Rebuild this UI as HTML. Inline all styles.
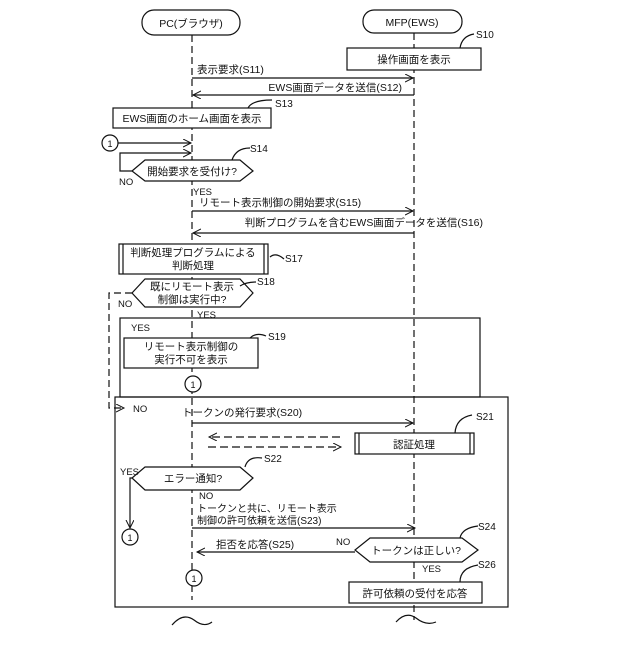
<!DOCTYPE html>
<html><head><meta charset="utf-8"><style>
body{margin:0;background:#fff}
svg text{font-family:"Liberation Sans","Noto Sans CJK JP",sans-serif;fill:#111}
</style></head><body>
<svg width="640" height="640" viewBox="0 0 640 640" xmlns="http://www.w3.org/2000/svg">
<defs>
<marker id="a" markerWidth="10" markerHeight="10" refX="8" refY="4" orient="auto" markerUnits="userSpaceOnUse"><path d="M0,0 L8,4 L0,8" fill="none" stroke="#111" stroke-width="1"/></marker>
</defs>
<g stroke="#111" stroke-width="1.2" fill="none">
<!-- lifelines -->
<line x1="192" y1="35" x2="192" y2="600" stroke-dasharray="7,4"/>
<line x1="414" y1="33" x2="414" y2="620" stroke-dasharray="7,4"/>
<rect x="142" y="10" width="98" height="25" rx="12" fill="#fff"/>
<rect x="363" y="10" width="99" height="23" rx="11" fill="#fff"/>
<rect x="347" y="48" width="134" height="22" fill="#fff"/>
<path d="M460,48 Q462,36 474,34"/>
<line x1="192" y1="78" x2="413" y2="78" marker-end="url(#a)"/>
<line x1="414" y1="95" x2="193" y2="95" marker-end="url(#a)"/>
<rect x="113" y="108" width="158" height="20" fill="#fff"/>
<path d="M248,108 Q252,100 272,100"/>
<circle cx="110" cy="143" r="8" fill="#fff"/>
<line x1="118" y1="143" x2="191" y2="143" marker-end="url(#a)"/>
<polyline points="132,171 120,171 120,153 191,153" marker-end="url(#a)"/>
<polygon points="145,160 240,160 253,171 240,181 145,181 132,171" fill="#fff"/>
<path d="M232,160 Q236,148 250,148"/>
<line x1="192" y1="211" x2="413" y2="211" marker-end="url(#a)"/>
<line x1="414" y1="233" x2="193" y2="233" marker-end="url(#a)"/>
<rect x="119" y="244" width="149" height="30" fill="#fff"/>
<line x1="123" y1="244" x2="123" y2="274"/><line x1="264" y1="244" x2="264" y2="274"/>
<path d="M270,257 Q276,252 284,259"/>
<polygon points="145,279 240,279 253,293 240,307 145,307 132,293" fill="#fff"/>
<path d="M240,286 Q246,282 256,282"/>
<polyline points="132,293 109,293 109,408 124,408" stroke-dasharray="7,4" marker-end="url(#a)"/>
<rect x="120" y="318" width="360" height="79"/>
<rect x="124" y="338" width="134" height="30" fill="#fff"/>
<path d="M250,338 Q256,332 266,336"/>
<circle cx="193" cy="384" r="8" fill="#fff"/>
<rect x="115" y="397" width="393" height="210"/>
<line x1="192" y1="423" x2="413" y2="423" marker-end="url(#a)"/>
<rect x="355" y="433" width="119" height="21" fill="#fff"/>
<line x1="359" y1="433" x2="359" y2="454"/><line x1="470" y1="433" x2="470" y2="454"/>
<path d="M455,433 Q456,418 472,415"/>
<line x1="340" y1="437" x2="209" y2="437" stroke-dasharray="8,4" marker-end="url(#a)"/>
<line x1="208" y1="447" x2="341" y2="447" stroke-dasharray="8,4" marker-end="url(#a)"/>
<polygon points="145,467 240,467 253,478 240,490 145,490 132,478" fill="#fff"/>
<path d="M245,467 Q248,456 262,458"/>
<polyline points="132,478 130,478 130,528" marker-end="url(#a)"/>
<circle cx="130" cy="537" r="8" fill="#fff"/>
<line x1="192" y1="528" x2="415" y2="528" marker-end="url(#a)"/>
<polygon points="370,538 462,538 478,550 462,562 370,562 355,550" fill="#fff"/>
<path d="M460,538 Q462,528 478,526"/>
<line x1="355" y1="552" x2="197" y2="552" marker-end="url(#a)"/>
<circle cx="194" cy="578" r="8" fill="#fff"/>
<rect x="349" y="582" width="133" height="21" fill="#fff"/>
<path d="M460,582 Q460,568 478,565"/>
<path d="M172,625 Q183,612 194,620 Q204,628 212,622"/>
<path d="M396,622 Q406,611 416,618 Q426,626 436,622"/>
</g>
<g font-size="10.5">
<text x="191" y="27" text-anchor="middle">PC(ブラウザ)</text>
<text x="412" y="26" text-anchor="middle">MFP(EWS)</text>
<text x="476" y="38" font-size="10">S10</text>
<text x="414" y="63" text-anchor="middle">操作画面を表示</text>
<text x="197" y="73">表示要求(S11)</text>
<text x="402" y="91" text-anchor="end">EWS画面データを送信(S12)</text>
<text x="275" y="107" font-size="10">S13</text>
<text x="192" y="122" text-anchor="middle">EWS画面のホーム画面を表示</text>
<text x="110" y="147" text-anchor="middle" font-size="9">1</text>
<text x="250" y="152" font-size="10">S14</text>
<text x="192" y="175" text-anchor="middle">開始要求を受付け?</text>
<text x="119" y="185" font-size="9.5">NO</text>
<text x="193" y="195" font-size="9.5">YES</text>
<text x="199" y="206">リモート表示制御の開始要求(S15)</text>
<text x="483" y="226" text-anchor="end">判断プログラムを含むEWS画面データを送信(S16)</text>
<text x="193" y="256" text-anchor="middle">判断処理プログラムによる</text>
<text x="193" y="269" text-anchor="middle">判断処理</text>
<text x="285" y="262" font-size="10">S17</text>
<text x="257" y="285" font-size="10">S18</text>
<text x="192" y="290" text-anchor="middle">既にリモート表示</text>
<text x="192" y="303" text-anchor="middle">制御は実行中?</text>
<text x="118" y="307" font-size="9.5">NO</text>
<text x="197" y="318" font-size="9.5">YES</text>
<text x="131" y="331" font-size="9.5">YES</text>
<text x="268" y="340" font-size="10">S19</text>
<text x="191" y="350" text-anchor="middle">リモート表示制御の</text>
<text x="191" y="363" text-anchor="middle">実行不可を表示</text>
<text x="193" y="388" text-anchor="middle" font-size="9">1</text>
<text x="133" y="412" font-size="9.5">NO</text>
<text x="182" y="416">トークンの発行要求(S20)</text>
<text x="476" y="420" font-size="10">S21</text>
<text x="414" y="448" text-anchor="middle">認証処理</text>
<text x="264" y="462" font-size="10">S22</text>
<text x="120" y="475" font-size="9.5">YES</text>
<text x="193" y="482" text-anchor="middle">エラー通知?</text>
<text x="130" y="541" text-anchor="middle" font-size="9">1</text>
<text x="199" y="499" font-size="9.5">NO</text>
<text x="197" y="512" font-size="10">トークンと共に、リモート表示</text>
<text x="197" y="524" font-size="10">制御の許可依頼を送信(S23)</text>
<text x="478" y="530" font-size="10">S24</text>
<text x="336" y="545" font-size="9.5">NO</text>
<text x="216" y="548">拒否を応答(S25)</text>
<text x="416" y="554" text-anchor="middle">トークンは正しい?</text>
<text x="194" y="582" text-anchor="middle" font-size="9">1</text>
<text x="422" y="572" font-size="9.5">YES</text>
<text x="478" y="568" font-size="10">S26</text>
<text x="415" y="597" text-anchor="middle">許可依頼の受付を応答</text>
</g>
</svg>
</body></html>
